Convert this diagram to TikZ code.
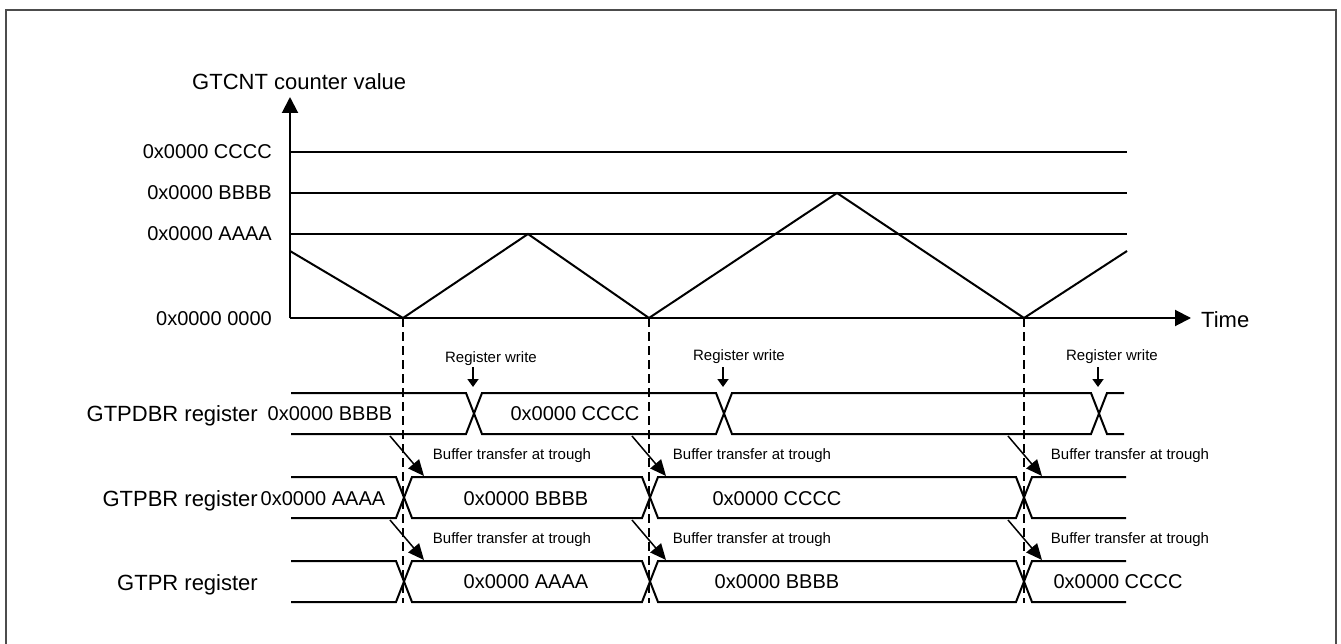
\documentclass[tikz,border=0pt]{standalone}
\usepackage{fontspec}
\setmainfont{Liberation Sans}
\usetikzlibrary{arrows.meta}
\begin{document}
\begin{tikzpicture}[x=1pt,y=-1pt,
  wave/.style={line width=2pt, line join=miter},
  hexval/.style={font=\fontsize{20}{24}\selectfont, inner sep=0pt},
  biglabel/.style={font=\fontsize{22}{26}\selectfont, inner sep=0pt},
  smalltxt/.style={font=\fontsize{15}{18}\selectfont, inner sep=0pt},
  trig/.style={line width=2pt, dash pattern=on 9pt off 5pt},
  xfer/.style={line width=1.5pt, -{Triangle[length=16pt,width=14pt]}},
  wr/.style={line width=1.8pt, -{Triangle[length=8pt,width=11pt]}},
  axis/.style={line width=2pt, -{Triangle[length=16pt,width=16pt]}},
]
\clip (0,0) rectangle (1341,644);
% frame
\draw[line width=1.6pt, black!70] (6,10) rectangle (1336,680);

% axes
\coordinate (O) at (290,318);
\coordinate (Ytop) at (290,97);
\coordinate (Xend) at (1191,318);
\draw[axis] (O) -- (Ytop);
\draw[axis] (O) -- (Xend);
\node[biglabel, anchor=base west] (ylab) at (192,90) {GTCNT counter value};
\node[biglabel, anchor=base west] (tlab) at (1201,327) {Time};

% level lines
\draw[wave] (290,152) -- (1127,152);
\draw[wave] (290,193) -- (1127,193);
\draw[wave] (290,234) -- (1127,234);
\node[hexval, anchor=base east] (lc) at (272,159) {0x0000 CCCC};
\node[hexval, anchor=base east] (lb) at (272,200) {0x0000 BBBB};
\node[hexval, anchor=base east] (la) at (272,241) {0x0000 AAAA};
\node[hexval, anchor=base east] (l0) at (272,325) {0x0000 0000};

% counter
\draw[wave] (290,251) -- (403,318) -- (528,234) -- (649,318) -- (837,193) -- (1024,318) -- (1127,251);

% trough dashed lines
\coordinate (t1) at (403,318); \coordinate (t1b) at (403,603);
\coordinate (t2) at (649,318); \coordinate (t2b) at (649,603);
\coordinate (t3) at (1024,318); \coordinate (t3b) at (1024,603);
\draw[trig] (t1) -- (t1b);
\draw[trig] (t2) -- (t2b);
\draw[trig] (t3) -- (t3b);

% GTPDBR row
\draw[wave] (291,393) -- (466,393) -- (482,434) -- (716,434) -- (732,393) -- (1091,393) -- (1107,434) -- (1124,434);
\draw[wave] (291,434) -- (466,434) -- (482,393) -- (716,393) -- (732,434) -- (1091,434) -- (1107,393) -- (1124,393);
% GTPBR row
\draw[wave] (291,477) -- (396,477) -- (412,518) -- (642,518) -- (658,477) -- (1016,477) -- (1032,518) -- (1126,518);
\draw[wave] (291,518) -- (396,518) -- (412,477) -- (642,477) -- (658,518) -- (1016,518) -- (1032,477) -- (1126,477);
% GTPR row
\draw[wave] (291,561) -- (396,561) -- (412,602) -- (642,602) -- (658,561) -- (1016,561) -- (1032,602) -- (1126,602);
\draw[wave] (291,602) -- (396,602) -- (412,561) -- (642,561) -- (658,602) -- (1016,602) -- (1032,561) -- (1126,561);

% register names
\node[biglabel, anchor=base east] (rdb) at (258,421) {GTPDBR register};
\node[biglabel, anchor=base east] (rb) at (258,506) {GTPBR register};
\node[biglabel, anchor=base east] (rp) at (258,590) {GTPR register};

% values
\node[hexval, anchor=base] (v11) at (330,420) {0x0000 BBBB};
\node[hexval, anchor=base] (v12) at (575,420) {0x0000 CCCC};
\node[hexval, anchor=base] (v21) at (323,505) {0x0000 AAAA};
\node[hexval, anchor=base] (v22) at (526,505) {0x0000 BBBB};
\node[hexval, anchor=base] (v23) at (777,505) {0x0000 CCCC};
\node[hexval, anchor=base] (v32) at (526,588) {0x0000 AAAA};
\node[hexval, anchor=base] (v33) at (777,588) {0x0000 BBBB};
\node[hexval, anchor=base] (v34) at (1118,588) {0x0000 CCCC};

% register write
\foreach \x/\tx/\ty [count=\i] in {473/491/362, 723/739/360, 1098/1112/360}{
  \node[smalltxt, anchor=base] (rw\i) at (\tx,\ty) {Register write};
  \coordinate (rwa\i) at (\x,367);
  \coordinate (rwb\i) at (\x,387);
  \draw[wr] (rwa\i) -- (rwb\i);
}

% buffer transfers
\foreach \xs/\tx [count=\i] in {390/512, 632/752, 1008/1130}{
  \coordinate (ba\i) at (\xs,436);
  \coordinate (bb\i) at (\xs+34,476);
  \coordinate (bc\i) at (\xs,520);
  \coordinate (bd\i) at (\xs+34,560);
  \draw[xfer] (ba\i) -- (bb\i);
  \draw[xfer] (bc\i) -- (bd\i);
  \node[smalltxt, anchor=base] (bt\i) at (\tx,459) {Buffer transfer at trough};
  \node[smalltxt, anchor=base] (bu\i) at (\tx,543) {Buffer transfer at trough};
}
\end{tikzpicture}
\end{document}
